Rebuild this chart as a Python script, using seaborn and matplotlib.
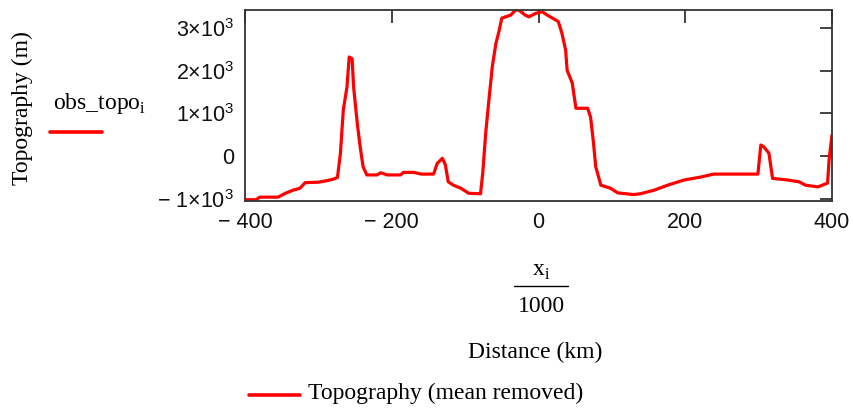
import matplotlib
matplotlib.use("Agg")
import matplotlib.pyplot as plt
from matplotlib.lines import Line2D
import seaborn as sns
import pandas as pd

# ---- data ----
distance_km = [-400, -385, -380, -355, -345, -335, -325, -318, -300, -290, -280, -274,
               -270, -266, -261, -258, -254, -252, -247, -243, -239, -234, -220, -215,
               -206, -188, -184, -170, -160, -143, -138, -131, -127, -123, -116, -106,
               -95, -79, -76, -72, -68, -63, -58, -54, -50, -38, -31, -27, -18, -13,
               -4, 5, 12, 19, 27, 32, 37, 39, 46, 51, 67, 71, 75, 78, 85, 98, 108,
               130, 139, 157, 176, 198, 221, 239, 299, 303, 307, 314, 319, 340, 355,
               364, 381, 394, 396, 400]
topo_m = [-1020, -1020, -960, -960, -870, -800, -750, -620, -610, -580, -540, -500,
          60, 1080, 1620, 2320, 2280, 1620, 770, 210, -250, -440, -440, -390,
          -440, -440, -380, -380, -420, -420, -170, -50, -200, -600, -680, -750,
          -870, -880, -400, 530, 1240, 2090, 2640, 2910, 3230, 3300, 3420, 3420, 3300, 3260,
          3340, 3380, 3300, 3230, 3150, 2870, 2480, 2010, 1710, 1120, 1120, 910, 300, -250, -680, -750, -860,
          -900, -880, -800, -680, -560, -490, -420, -420, 260, 220, 70, -520, -560, -600,
          -680, -720, -630, -90, 490]

x_ticks = [-400, -200, 0, 200, 400]
x_tick_labels = ["\u2212 400", "\u2212 200", "0", "200", "400"]
y_ticks = [-1000, 0, 1000, 2000, 3000]
y_tick_labels = ["\u2212 1\u00d710$^{\\mathsf{3}}$", "0", "1\u00d710$^{\\mathsf{3}}$",
                 "2\u00d710$^{\\mathsf{3}}$", "3\u00d710$^{\\mathsf{3}}$"]

W, H = 854, 412

sns.set_style("white")
plt.rcParams['font.family'] = ['Liberation Serif', 'DejaVu Serif']
plt.rcParams['mathtext.fontset'] = 'custom'
plt.rcParams['mathtext.rm'] = 'Liberation Serif'
plt.rcParams['mathtext.sf'] = 'Liberation Sans'

fig = plt.figure(figsize=(W / 100, H / 100), dpi=100)

def fx(px):
    return px / W

def fy(py):
    return 1 - py / H

ax = fig.add_axes([fx(245), fy(201), fx(832) - fx(245), fy(10) - fy(201)])

df = pd.DataFrame({"x": distance_km, "y": topo_m})
sns.lineplot(data=df, x="x", y="y", ax=ax, color="#ff0000", linewidth=2.3,
             sort=False, estimator=None)

ax.set_xlim(-400, 400)
ax.set_ylim(-1050, 3420)
ax.set_xticks(x_ticks)
ax.set_xticklabels(x_tick_labels)
ax.set_yticks(y_ticks)
ax.set_yticklabels(y_tick_labels)
ax.set_xlabel("")
ax.set_ylabel("")

for lab in ax.get_xticklabels() + ax.get_yticklabels():
    lab.set_family(['Liberation Sans', 'DejaVu Sans'])
    lab.set_fontsize(15.5)
    lab.set_color("#111111")

ax.tick_params(axis='both', direction='in', length=9, width=1.3, color="#333333",
               top=True, right=True, pad=8)
for sp in ax.spines.values():
    sp.set_visible(True)
    sp.set_color("#333333")
    sp.set_linewidth(1.3)

TXT = "#000000"
FS = 17

# y label
fig.text(fx(22), fy(108), "Topography (m)", rotation=90, ha='center', va='center',
         fontsize=FS, color=TXT)

# left legend
fig.text(fx(53), fy(104), r"obs_topo$_\mathregular{i}$", ha='left', va='center',
         fontsize=FS, color=TXT)
fig.add_artist(Line2D([fx(50), fx(102)], [fy(132), fy(132)], color="#ff0000",
                      linewidth=2.6, transform=fig.transFigure))

# x label (fraction)
fig.text(fx(541), fy(271), r"x$_\mathregular{i}$", ha='center', va='center',
         fontsize=FS, color=TXT)
fig.add_artist(Line2D([fx(514), fx(568)], [fy(286), fy(286)], color=TXT,
                      linewidth=1.0, transform=fig.transFigure))
fig.text(fx(541), fy(306), "1000", ha='center', va='center', fontsize=FS, color=TXT)
fig.text(fx(535), fy(352), "Distance (km)", ha='center', va='center', fontsize=FS,
         color=TXT)

# bottom legend
fig.add_artist(Line2D([fx(249), fx(300)], [fy(395), fy(395)], color="#ff0000",
                      linewidth=2.6, transform=fig.transFigure))
fig.text(fx(308), fy(393), "Topography (mean removed)", ha='left', va='center',
         fontsize=FS, color=TXT)

fig.savefig("out.png", dpi=100)
